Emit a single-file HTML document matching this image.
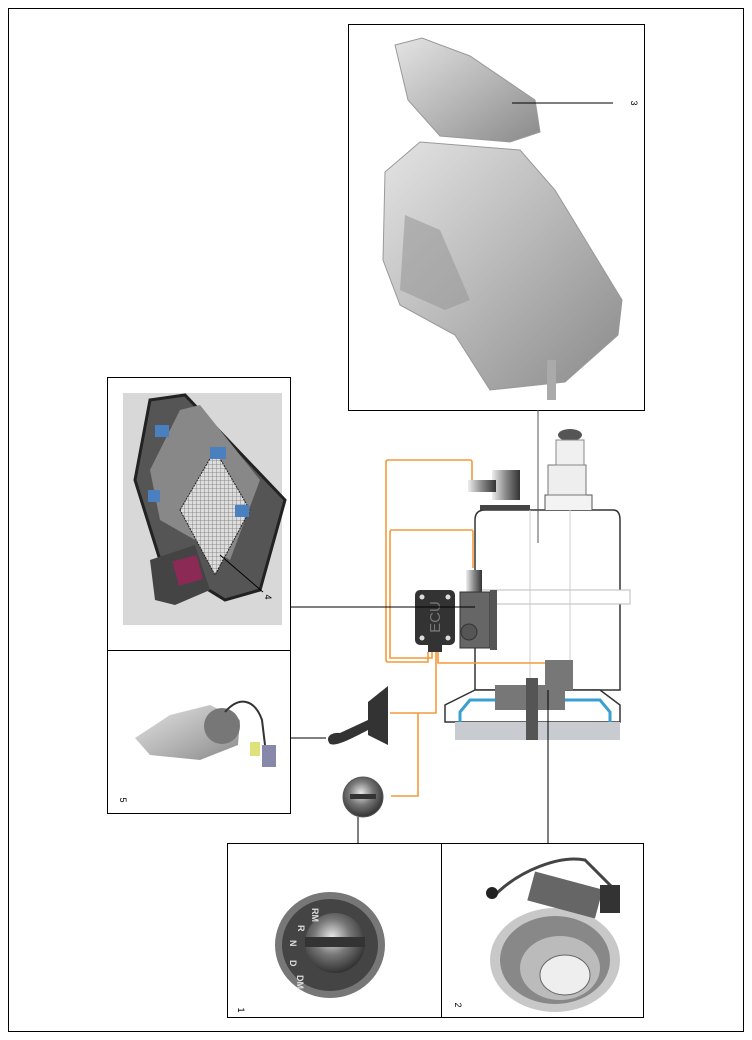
<!DOCTYPE html>
<html><head><meta charset="utf-8"><style>
html,body{margin:0;padding:0;background:#fff;}
svg{display:block;font-family:"Liberation Sans",sans-serif;}
</style></head><body>
<svg width="752" height="1040" viewBox="0 0 752 1040" xmlns="http://www.w3.org/2000/svg">
<defs>
<linearGradient id="mg" x1="0" y1="0" x2="1" y2="1"><stop offset="0" stop-color="#e4e4e4"/><stop offset="0.5" stop-color="#b8b8b8"/><stop offset="1" stop-color="#8a8a8a"/></linearGradient>
<radialGradient id="kn" cx="0.45" cy="0.4" r="0.6"><stop offset="0" stop-color="#e8e8e8"/><stop offset="0.5" stop-color="#777"/><stop offset="1" stop-color="#333"/></radialGradient>
<linearGradient id="cy" x1="0" y1="0" x2="1" y2="0"><stop offset="0" stop-color="#eee"/><stop offset="0.5" stop-color="#888"/><stop offset="1" stop-color="#333"/></linearGradient>
<pattern id="grid" width="4" height="4" patternUnits="userSpaceOnUse"><rect width="4" height="4" fill="#ddd"/><path d="M0 0H4M0 0V4" stroke="#777" stroke-width="0.8"/></pattern>
</defs>
<rect x="8.5" y="8.5" width="735" height="1023" fill="none" stroke="#000"/>

<!-- Box 3 -->
<rect x="348.5" y="24.5" width="296" height="386" fill="#fff" stroke="#000"/>
<polygon points="385,172 420,142 520,150 555,190 622,300 618,335 565,382 490,390 455,335 400,305 383,260" fill="url(#mg)" stroke="#999"/>
<polygon points="395,45 422,38 470,56 535,100 540,132 510,142 440,136 408,100" fill="url(#mg)" stroke="#999"/>
<polygon points="405,215 440,230 470,300 445,310 400,290" fill="#9a9a9a" opacity="0.6"/>
<rect x="547" y="360" width="9" height="40" fill="#aaa"/>
<line x1="512" y1="103" x2="613" y2="103" stroke="#000"/>
<text x="631" y="103" font-size="9" transform="rotate(90 631 103)" text-anchor="middle">3</text>

<!-- Box 4 -->
<rect x="107.5" y="377.5" width="183" height="273" fill="#fff" stroke="#000"/>
<rect x="123" y="393" width="159" height="232" fill="#d8d8d8"/>
<polygon points="150,400 185,395 285,500 260,590 225,600 160,560 135,480" fill="#555" stroke="#222" stroke-width="3"/>
<polygon points="180,410 200,405 260,480 230,560 160,520 150,470" fill="#888"/>
<polygon points="180,510 215,450 250,510 215,575" fill="url(#grid)" stroke="#222" stroke-dasharray="2 1"/>
<polygon points="150,560 195,545 210,590 175,605 155,600" fill="#444"/>
<rect x="175" y="558" width="25" height="25" fill="#8b2a55" transform="rotate(-15 187 570)"/>
<rect x="155" y="425" width="14" height="12" fill="#4a7fc0"/>
<rect x="210" y="447" width="16" height="12" fill="#4a7fc0"/>
<rect x="148" y="490" width="12" height="12" fill="#4a7fc0"/>
<rect x="235" y="505" width="14" height="12" fill="#4a7fc0"/>
<line x1="220" y1="555" x2="263" y2="592" stroke="#000"/>
<text x="265" y="597" font-size="9" transform="rotate(90 265 597)" text-anchor="middle">4</text>

<!-- Box 5 -->
<rect x="107.5" y="650.5" width="183" height="163" fill="#fff" stroke="#000"/>
<polygon points="135,738 170,715 210,705 240,720 238,745 200,760 150,755" fill="url(#mg)"/>
<circle cx="222" cy="726" r="18" fill="#777"/>
<path d="M225,712 C240,695 255,700 262,720 L265,745" fill="none" stroke="#333" stroke-width="2"/>
<rect x="250" y="742" width="10" height="14" fill="#dde27a"/>
<rect x="262" y="745" width="14" height="22" fill="#8888aa"/>
<text x="120" y="800" font-size="9" transform="rotate(90 120 800)" text-anchor="middle">5</text>

<!-- Box 1 -->
<rect x="227.5" y="843.5" width="214" height="174" fill="#fff" stroke="#000"/>
<ellipse cx="330" cy="945" rx="55" ry="53" fill="#777"/>
<ellipse cx="330" cy="945" rx="48" ry="46" fill="#444"/>
<circle cx="335" cy="943" r="30" fill="url(#kn)"/>
<rect x="305" y="937" width="60" height="10" fill="#333"/>
<g fill="#ddd" font-size="9" font-weight="bold">
<text x="312" y="908" transform="rotate(90 312 908)">RM</text>
<text x="298" y="925" transform="rotate(90 298 925)">R</text>
<text x="290" y="940" transform="rotate(90 290 940)">N</text>
<text x="290" y="960" transform="rotate(90 290 960)">D</text>
<text x="297" y="975" transform="rotate(90 297 975)">DM</text>
</g>
<text x="238" y="1010" font-size="9" transform="rotate(90 238 1010)" text-anchor="middle">1</text>

<!-- Box 2 -->
<rect x="441.5" y="843.5" width="202" height="174" fill="#fff" stroke="#000"/>
<ellipse cx="555" cy="960" rx="65" ry="52" fill="#c8c8c8"/>
<ellipse cx="555" cy="960" rx="55" ry="44" fill="#888"/>
<ellipse cx="560" cy="968" rx="40" ry="32" fill="#bbb"/>
<ellipse cx="565" cy="975" rx="25" ry="20" fill="#eee" stroke="#666"/>
<rect x="530" y="880" width="70" height="30" fill="#666" transform="rotate(15 565 895)"/>
<path d="M495,895 C520,870 560,855 585,860 L615,890" fill="none" stroke="#444" stroke-width="3"/>
<circle cx="492" cy="893" r="6" fill="#222"/>
<rect x="600" y="885" width="20" height="28" fill="#333"/>
<text x="455" y="1005" font-size="9" transform="rotate(90 455 1005)" text-anchor="middle">2</text>

<!-- Central diagram housing -->
<path d="M475,520 Q475,510 485,510 L613,510 Q620,510 620,520 L620,690 L475,690 Z" fill="#fff" stroke="#333" stroke-width="1.5"/>
<rect x="480" y="590" width="150" height="14" fill="#fff" stroke="#bbb"/>
<line x1="530" y1="510" x2="530" y2="690" stroke="#ccc"/>
<line x1="570" y1="510" x2="570" y2="690" stroke="#ccc"/>
<path d="M545,510 L545,495 L592,495 L592,510" fill="#f3f3f3" stroke="#555"/>
<rect x="548" y="465" width="38" height="30" fill="#eee" stroke="#777"/>
<ellipse cx="570" cy="435" rx="12" ry="6" fill="#555"/>
<rect x="556" y="440" width="28" height="25" fill="#f0f0f0" stroke="#888"/>
<rect x="492" y="470" width="28" height="30" fill="url(#cy)"/>
<rect x="468" y="480" width="28" height="12" fill="url(#cy)"/>
<rect x="480" y="505" width="50" height="5" fill="#444"/>
<path d="M475,690 L445,705 L445,722 L620,722 L620,705 L600,690 Z" fill="#fff" stroke="#333" stroke-width="1.5"/>
<path d="M460,712 L470,700 L600,700 L610,712 L610,725 L460,725 Z" fill="none" stroke="#3a9fd0" stroke-width="3"/>
<rect x="455" y="722" width="165" height="18" fill="#c8ccd0"/>
<rect x="495" y="685" width="70" height="25" fill="#777"/>
<rect x="545" y="660" width="28" height="30" fill="#777"/>
<rect x="526" y="678" width="12" height="62" fill="#555"/>
<!-- actuator & ECU -->
<rect x="466" y="570" width="16" height="22" fill="url(#cy)"/>
<rect x="460" y="592" width="30" height="56" fill="#666" stroke="#333"/>
<rect x="490" y="590" width="7" height="60" fill="#555"/>
<circle cx="469" cy="632" r="8" fill="#555" stroke="#333"/>
<rect x="415" y="590" width="40" height="55" rx="5" fill="#333"/>
<circle cx="422" cy="597" r="2.5" fill="#ddd"/><circle cx="448" cy="597" r="2.5" fill="#ddd"/>
<circle cx="422" cy="638" r="2.5" fill="#ddd"/><circle cx="448" cy="638" r="2.5" fill="#ddd"/>
<text x="436" y="617" font-size="15" fill="#777" transform="rotate(-90 436 617)" text-anchor="middle" dominant-baseline="middle">ECU</text>
<rect x="428" y="645" width="14" height="7" fill="#333"/>
<!-- orange wires -->
<g fill="none" stroke="#f39a3c" stroke-width="1.6">
<path d="M472,480 L472,462 Q472,460 470,460 L388,460 Q386,460 386,462 L386,660 Q386,662 388,662 L428,662 L428,652"/>
<path d="M473,568 L473,532 Q473,530 471,530 L392,530 Q390,530 390,532 L390,658 L432,658 L432,652"/>
<path d="M438,652 L438,663 L545,663"/>
<path d="M436,652 L436,713 L390,713"/>
<path d="M418,713 L418,796 L391,796"/>
</g>
<!-- lever and knob -->
<polygon points="368,702 388,686 388,745 368,735" fill="#333"/>
<path d="M368,720 L340,733 C330,732 325,738 330,744 C336,746 345,742 368,730 Z" fill="#333"/>
<circle cx="363" cy="797" r="20" fill="url(#kn)" stroke="#555"/>
<rect x="350" y="794" width="26" height="5" fill="#333"/>
<!-- connector lines -->
<g stroke="#000" stroke-width="1">
<line x1="290" y1="607" x2="475" y2="607"/>
<line x1="290" y1="738" x2="326" y2="738"/>
<line x1="358" y1="817" x2="358" y2="843"/>
<line x1="548" y1="690" x2="548" y2="843"/>
<line x1="538" y1="410" x2="538" y2="543" stroke="#555"/>
</g>
</svg>
</body></html>
